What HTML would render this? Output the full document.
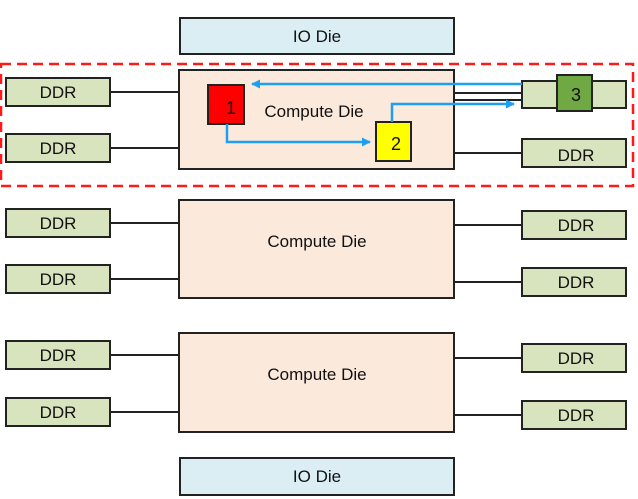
<!DOCTYPE html>
<html><head><style>
html,body{margin:0;padding:0;background:#fff;}
svg{display:block;}
text{font-family:"Liberation Sans",sans-serif;font-size:17px;fill:#111;}
</style></head><body>
<svg width="638" height="499" viewBox="0 0 638 499" xmlns="http://www.w3.org/2000/svg">
<defs>
<marker id="ah" markerWidth="9" markerHeight="9" refX="8" refY="4.5" orient="auto" markerUnits="userSpaceOnUse">
<path d="M0,0 L9,4.5 L0,9 z" fill="#1ea0f0"/>
</marker>
</defs>
<g stroke="#222" stroke-width="2">
<rect x="180" y="18" width="274" height="36" fill="#daeef3"/>
<rect x="180" y="458" width="274" height="37" fill="#daeef3"/>
<line x1="110" y1="92" x2="179" y2="92"/>
<line x1="110" y1="148" x2="179" y2="148"/>
<line x1="454" y1="93" x2="522" y2="93"/>
<line x1="454" y1="100" x2="522" y2="100"/>
<line x1="454" y1="153" x2="522" y2="153"/>
<line x1="110" y1="223" x2="179" y2="223"/>
<line x1="110" y1="279" x2="179" y2="279"/>
<line x1="454" y1="225" x2="522" y2="225"/>
<line x1="454" y1="282" x2="522" y2="282"/>
<line x1="110" y1="355" x2="179" y2="355"/>
<line x1="110" y1="412" x2="179" y2="412"/>
<line x1="454" y1="358" x2="522" y2="358"/>
<line x1="454" y1="415" x2="522" y2="415"/>
<rect x="179" y="70" width="275" height="99" fill="#fbe9dc"/>
<rect x="179" y="200" width="275" height="98" fill="#fbe9dc"/>
<rect x="179" y="333" width="275" height="99" fill="#fbe9dc"/>
<g fill="#d7e4bd">
<rect x="6" y="78" width="104" height="28"/>
<rect x="6" y="134" width="104" height="28"/>
<rect x="522" y="81" width="104" height="27"/>
<rect x="522" y="139" width="104" height="28"/>
<rect x="6" y="209" width="104" height="28"/>
<rect x="6" y="265" width="104" height="28"/>
<rect x="522" y="211" width="104" height="28"/>
<rect x="522" y="268" width="104" height="28"/>
<rect x="6" y="341" width="104" height="28"/>
<rect x="6" y="398" width="104" height="28"/>
<rect x="522" y="344" width="104" height="28"/>
<rect x="522" y="401" width="104" height="28"/>
</g>
<rect x="557" y="75" width="35" height="36" fill="#70a843"/>
<rect x="208" y="85" width="36" height="39" fill="#ff0000"/>
<rect x="376" y="122" width="35" height="39" fill="#ffff00"/>
</g>
<g stroke="#1ea0f0" stroke-width="2.5" fill="none">
<polyline points="522,84 252,84" marker-end="url(#ah)"/>
<polyline points="227,124 227,142 370,142" marker-end="url(#ah)"/>
<polyline points="392,122 392,104 514,104" marker-end="url(#ah)"/>
</g>
<rect x="1" y="64" width="632" height="122" fill="none" stroke="#ff1a1a" stroke-width="2.5" stroke-dasharray="10,6"/>
<g text-anchor="middle">
<text x="317" y="42">IO Die</text>
<text x="317" y="482">IO Die</text>
<text x="314" y="117">Compute Die</text>
<text x="317" y="247">Compute Die</text>
<text x="317" y="380">Compute Die</text>
<text x="58" y="98">DDR</text>
<text x="58" y="154">DDR</text>
<text x="576" y="161">DDR</text>
<text x="58" y="229">DDR</text>
<text x="58" y="285">DDR</text>
<text x="576" y="231">DDR</text>
<text x="576" y="288">DDR</text>
<text x="58" y="361">DDR</text>
<text x="58" y="418">DDR</text>
<text x="576" y="364">DDR</text>
<text x="576" y="421">DDR</text>
<text x="231" y="114" style="font-size:18px">1</text>
<text x="396" y="150" style="font-size:18px">2</text>
<text x="576" y="101" style="font-size:18px">3</text>
</g>
</svg>
</body></html>
